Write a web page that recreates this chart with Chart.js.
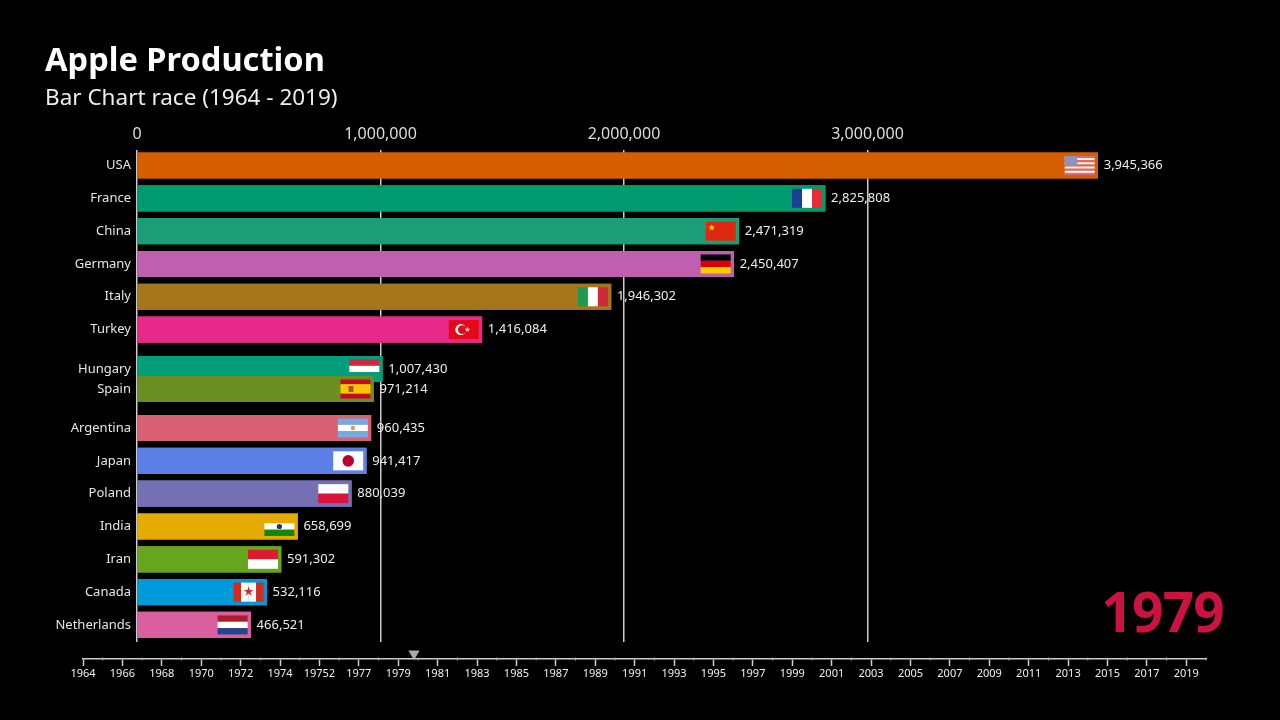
<!DOCTYPE html>
<html>
<head>
<meta charset="utf-8">
<title>Apple Production</title>
<script src="https://cdn.jsdelivr.net/npm/chart.js@4"></script>
<style>
    html, body { margin: 0; background: #000; overflow: hidden; }
    #wrap { position: relative; width: 1280px; height: 720px; }
    canvas { position: absolute; left: 0; display: block; }
    #raceChart { top: 0; }
    #timeChart { top: 640px; }
</style>
</head>
<body>
<div id="wrap">
    <canvas id="raceChart" width="1280" height="720"></canvas>
    <canvas id="timeChart" width="1280" height="80"></canvas>
</div>
<script>
const countries = ['USA', 'France', 'China', 'Germany', 'Italy', 'Turkey', 'Hungary', 'Spain', 'Argentina', 'Japan', 'Poland', 'India', 'Iran', 'Canada', 'Netherlands'];
const production = [3945366, 2825808, 2471319, 2450407, 1946302, 1416084, 1007430, 971214, 960435, 941417, 880039, 658699, 591302, 532116, 466521];
// rank on screen, fractional where two bars are swapping places
const ranks = [0, 1, 2, 3, 4, 5, 6.2, 6.81, 8, 9, 10, 11, 12, 13, 14];
const barColors = ['#d55e00', '#009b6c', '#1b9e77', '#c05fb0', '#a6761d', '#e7298a', '#009e7a', '#6b8e23', '#d95f73', '#5c7fe6', '#7570b3', '#e6ab02', '#66a61e', '#0099d9', '#d95f9f'];
const xTicks = [0, 1000000, 2000000, 3000000];
const currentYear = '1979';

const timelineLabels = ['1964', '1966', '1968', '1970', '1972', '1974', '19752', '1977', '1979', '1981', '1983', '1985', '1987', '1989', '1991', '1993', '1995', '1997', '1999', '2001', '2003', '2005', '2007', '2009', '2011', '2013', '2015', '2017', '2019'];
const timelineSlots = 57;
const markerSlot = [16.8];

const flagStripes = {
    USA: ['h', '#d9687a', '#fff', '#d9687a', '#fff', '#d9687a', '#fff', '#d9687a', '#fff', '#d9687a'],
    France: ['v', '#1c3f94', '#fff', '#ed2939'],
    China: ['h', '#de2910'],
    Germany: ['h', '#000', '#dd0000', '#ffce00'],
    Italy: ['v', '#1c9a50', '#fff', '#ce2b37'],
    Turkey: ['h', '#e30a17'],
    Hungary: ['h', '#cd2a3e', '#fff', '#009e7a'],
    Spain: ['h', '#c60b1e', '#ffc400', '#ffc400', '#c60b1e'],
    Argentina: ['h', '#74acdf', '#fff', '#74acdf'],
    Japan: ['h', '#fff'],
    Poland: ['h', '#fff', '#dc143c'],
    India: ['h', '#e6ab02', '#fff', '#138808'],
    Iran: ['h', '#dc1c2e', '#fff'],
    Canada: ['v', '#d52b1e', '#fff', '#fff', '#d52b1e'],
    Netherlands: ['h', '#ae1c28', '#fff', '#21468b']
};

function star(ctx, cx, cy, r, color) {
    ctx.fillStyle = color;
    ctx.beginPath();
    for (let i = 0; i < 10; i++) {
        const rad = i % 2 ? r * 0.4 : r;
        const a = -Math.PI / 2 + i * Math.PI / 5;
        ctx.lineTo(cx + rad * Math.cos(a), cy + rad * Math.sin(a));
    }
    ctx.closePath();
    ctx.fill();
}

function disc(ctx, cx, cy, r, color) {
    ctx.fillStyle = color;
    ctx.beginPath();
    ctx.arc(cx, cy, r, 0, Math.PI * 2);
    ctx.fill();
}

// small emblems on top of the stripes, x/y is the flag's top left corner
const flagEmblems = {
    USA(ctx, x, y, w, h) {
        ctx.fillStyle = '#8f93b8';
        ctx.fillRect(x, y, w * 0.42, h * 0.5);
    },
    China(ctx, x, y) {
        star(ctx, x + 6, y + 6, 3.5, '#ffde00');
    },
    Turkey(ctx, x, y, w, h) {
        disc(ctx, x + w * 0.4, y + h / 2, 5.5, '#fff');
        disc(ctx, x + w * 0.45, y + h / 2, 4.4, '#e30a17');
        star(ctx, x + w * 0.62, y + h / 2, 2.8, '#fff');
    },
    Spain(ctx, x, y, w, h) {
        ctx.fillStyle = '#a5531b';
        ctx.fillRect(x + 8, y + h / 2 - 3, 5, 6);
    },
    Argentina(ctx, x, y, w, h) {
        disc(ctx, x + w / 2, y + h / 2, 2.2, '#c9a45a');
    },
    Japan(ctx, x, y, w, h) {
        disc(ctx, x + w / 2, y + h / 2, 5.8, '#bc002d');
    },
    India(ctx, x, y, w, h) {
        disc(ctx, x + w / 2, y + h / 2, 2.6, '#2a2f7a');
    },
    Canada(ctx, x, y, w, h) {
        star(ctx, x + w / 2, y + h / 2 - 0.5, 5, '#d52b1e');
    }
};

function drawFlag(ctx, name, right, cy) {
    const w = 30, h = 19;
    const x = right - w, y = cy - h / 2;
    const [dir, ...cols] = flagStripes[name];
    cols.forEach((c, i) => {
        ctx.fillStyle = c;
        if (dir === 'h') ctx.fillRect(x, y + i * h / cols.length, w, h / cols.length);
        else ctx.fillRect(x + i * w / cols.length, y, w / cols.length, h);
    });
    if (flagEmblems[name]) flagEmblems[name](ctx, x, y, w, h);
}

const barDecor = {
    id: 'barDecor',
    afterDatasetsDraw(chart) {
        const ctx = chart.ctx;
        const bars = chart.getDatasetMeta(0).data;
        ctx.save();
        // redraw bar by bar so a lower bar also covers the flag of the one above
        bars.forEach((bar, i) => {
            bar.draw(ctx);
            drawFlag(ctx, countries[i], bar.x - 3, bar.y);
        });
        ctx.fillStyle = '#eee';
        ctx.font = '13px "Noto Sans"';
        ctx.textAlign = 'left';
        ctx.textBaseline = 'middle';
        bars.forEach((bar, i) => {
            ctx.fillText(production[i].toLocaleString('en-US'), bar.x + 6, bar.y);
        });
        ctx.fillStyle = '#cc1240';
        ctx.font = 'bold 55px "Noto Sans"';
        ctx.letterSpacing = '-0.8px';
        ctx.textAlign = 'right';
        ctx.fillText(currentYear, 1224, 616);
        ctx.restore();
    }
};

Chart.defaults.font.family = '"Noto Sans", sans-serif';
Chart.defaults.color = '#ddd';

new Chart(document.getElementById('raceChart'), {
    type: 'bar',
    data: {
        datasets: [{
            data: production.map((v, i) => ({ x: v, y: ranks[i] })),
            backgroundColor: barColors,
            borderWidth: 0,
            barThickness: 25.5
        }]
    },
    options: {
        indexAxis: 'y',
        responsive: false,
        animation: false,
        layout: { padding: { left: 45, top: 42, right: 182.3, bottom: 78 } },
        plugins: {
            legend: { display: false },
            tooltip: { enabled: false },
            title: {
                display: true,
                text: 'Apple Production',
                align: 'start',
                color: '#fff',
                font: { size: 32.6, weight: 'bold', lineHeight: 1.2 },
                padding: 0
            },
            subtitle: {
                display: true,
                text: 'Bar Chart race (1964 - 2019)',
                align: 'start',
                color: '#eee',
                font: { size: 22.5, weight: 'normal', lineHeight: 1.2 },
                padding: { top: 3.5, bottom: 0 }
            }
        },
        scales: {
            x: {
                type: 'linear',
                position: 'top',
                min: 0,
                max: Math.max(...production),
                afterBuildTicks: scale => { scale.ticks = xTicks.map(v => ({ value: v })); },
                afterFit: scale => { scale.height = 38.4; },
                border: { display: false },
                grid: { color: '#ccc', lineWidth: 1.5, drawTicks: false },
                ticks: {
                    padding: 6,
                    color: '#ddd',
                    font: { size: 16 },
                    maxRotation: 0,
                    callback: v => v.toLocaleString('en-US')
                }
            },
            y: {
                type: 'linear',
                reverse: true,
                offset: false,
                min: -0.472,
                max: 14.52,
                afterBuildTicks: scale => { scale.ticks = ranks.map(v => ({ value: v })); },
                afterFit: scale => { scale.width = 92; },
                border: { display: false },
                grid: { display: false, offset: false, drawTicks: false },
                ticks: {
                    autoSkip: false,
                    padding: 6,
                    color: '#e6e6e6',
                    font: { size: 13 },
                    callback: (v, i) => countries[i]
                }
            }
        }
    },
    plugins: [barDecor]
});

// the small ticks between two labelled years
const minorTicks = {
    id: 'minorTicks',
    afterDraw(chart) {
        const ctx = chart.ctx;
        const scale = chart.scales.x;
        ctx.save();
        ctx.strokeStyle = '#aaa';
        ctx.lineWidth = 1;
        for (let i = 1; i <= timelineSlots; i += 2) {
            const px = scale.getPixelForValue(i);
            ctx.beginPath();
            ctx.moveTo(px, scale.top - 1.5);
            ctx.lineTo(px, scale.top + 1.5);
            ctx.stroke();
        }
        ctx.restore();
    }
};

new Chart(document.getElementById('timeChart'), {
    type: 'scatter',
    data: {
        datasets: [{
            data: markerSlot.map(v => ({ x: v, y: 0.42 })),
            pointStyle: 'triangle',
            rotation: 180,
            pointRadius: 6.5,
            backgroundColor: '#aaa',
            borderWidth: 0,
            clip: false
        }]
    },
    options: {
        responsive: false,
        animation: false,
        layout: { padding: { left: 83, right: 74, top: 0, bottom: 0 } },
        plugins: { legend: { display: false }, tooltip: { enabled: false } },
        scales: {
            x: {
                type: 'linear',
                min: 0,
                max: timelineSlots,
                afterFit: scale => { scale.height = 61; },
                border: { color: '#ccc', width: 1.5 },
                grid: { drawOnChartArea: false, color: '#ccc', tickColor: '#ccc', tickLength: 7, tickWidth: 1.5 },
                ticks: {
                    stepSize: 2,
                    autoSkip: false,
                    maxRotation: 0,
                    padding: 1,
                    color: '#f0f0f0',
                    font: { size: 11 },
                    callback: (v, i) => timelineLabels[i]
                }
            },
            y: { display: false, min: 0, max: 1 }
        }
    },
    plugins: [minorTicks]
});
</script>
</body>
</html>
